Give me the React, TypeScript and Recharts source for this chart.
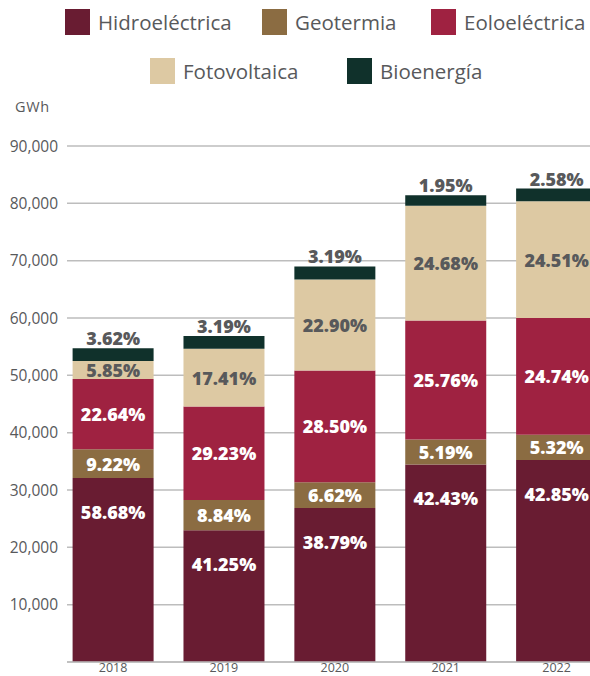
import { BarChart, Bar, XAxis, YAxis, CartesianGrid, LabelList } from 'recharts';

const years = ['2018', '2019', '2020', '2021', '2022'];

// GWh por fuente
const hidro = [32100, 23000, 26850, 34450, 35250];
const geo = [5000, 5250, 4500, 4350, 4380];
const eolo = [12250, 16300, 19500, 20750, 20350];
const foto = [3170, 10100, 15850, 20050, 20400];
const bio = [2200, 2200, 2300, 1800, 2200];

const hidroPct = ['58.68%', '41.25%', '38.79%', '42.43%', '42.85%'];
const geoPct = ['9.22%', '8.84%', '6.62%', '5.19%', '5.32%'];
const eoloPct = ['22.64%', '29.23%', '28.50%', '25.76%', '24.74%'];
const fotoPct = ['5.85%', '17.41%', '22.90%', '24.68%', '24.51%'];
const bioPct = ['3.62%', '3.19%', '3.19%', '1.95%', '2.58%'];

const yTicks = [10000, 20000, 30000, 40000, 50000, 60000, 70000, 80000, 90000];

const COLORS = {
  hidro: '#691C32',
  geo: '#8B6C42',
  eolo: '#9F2241',
  foto: '#DDC9A3',
  bio: '#10312B',
};

const FONT = '"Open Sans", sans-serif';
const GRAY = '#58595B';

const data = years.map((year, i) => ({
  year,
  hidro: hidro[i],
  geo: geo[i],
  eolo: eolo[i],
  foto: foto[i],
  bio: bio[i],
  hidroPct: hidroPct[i],
  geoPct: geoPct[i],
  eoloPct: eoloPct[i],
  fotoPct: fotoPct[i],
  bioPct: bioPct[i],
}));

const legendItems = [
  { name: 'Hidroeléctrica', color: COLORS.hidro, left: 65, top: 9 },
  { name: 'Geotermia', color: COLORS.geo, left: 262, top: 9 },
  { name: 'Eoloeléctrica', color: COLORS.eolo, left: 431, top: 9 },
  { name: 'Fotovoltaica', color: COLORS.foto, left: 150, top: 58 },
  { name: 'Bioenergía', color: COLORS.bio, left: 347, top: 58 },
];

const labelStyle = {
  fontFamily: FONT,
  fontWeight: 800,
  fontSize: 18,
};

function makeLabel(mode: 'top' | 'center' | 'above', color: string) {
  return (props: any) => {
    const { x, y, width, height, value } = props;
    const cx = Number(x) + Number(width) / 2;
    let cy = Number(y) + Number(height) / 2;
    if (mode === 'top') cy = Number(y) + 34;
    if (mode === 'above') cy = Number(y) - 10;
    return (
      <text x={cx} y={cy} textAnchor="middle" dominantBaseline="central" fill={color} style={labelStyle}>
        {value}
      </text>
    );
  };
}

export default function App() {
  return (
    <div
      style={{
        position: 'absolute',
        left: 0,
        top: 0,
        width: 590,
        height: 676,
        overflow: 'hidden',
        background: '#fff',
        fontFamily: FONT,
      }}
    >
      {legendItems.map((it) => (
        <div
          key={it.name}
          style={{ position: 'absolute', left: it.left, top: it.top, display: 'flex', alignItems: 'center' }}
        >
          <div style={{ width: 25, height: 26, background: it.color }} />
          <span style={{ marginLeft: 8, fontSize: 20.5, color: GRAY, lineHeight: '26px' }}>{it.name}</span>
        </div>
      ))}
      <div style={{ position: 'absolute', left: 15, top: 97, fontSize: 14.5, color: GRAY, letterSpacing: 0.6 }}>GWh</div>

      <BarChart
        width={612}
        height={676}
        data={data}
        margin={{ top: 146, right: 0, bottom: 0, left: 0 }}
        barSize={81}
      >
        <CartesianGrid vertical={false} stroke="#BDBDBD" strokeWidth={1.5} />
        <XAxis
          dataKey="year"
          height={14}
          padding={{ left: -9.4, right: 0 }}
          tickLine={false}
          tickSize={0}
          tickMargin={1}
          axisLine={{ stroke: '#BDBDBD', strokeWidth: 1.5 }}
          tick={{ fill: GRAY, fontSize: 12.5, fontFamily: FONT }}
        />
        <YAxis
          width={67}
          domain={[0, 90000]}
          ticks={yTicks}
          axisLine={false}
          tickLine={false}
          tickSize={0}
          tickMargin={9}
          tickFormatter={(v: number) => v.toLocaleString('en-US')}
          tick={{ fill: GRAY, fontSize: 15.5, fontFamily: FONT }}
        />
        <Bar dataKey="hidro" stackId="a" fill={COLORS.hidro} isAnimationActive={false}>
          <LabelList dataKey="hidroPct" content={makeLabel('top', '#fff')} />
        </Bar>
        <Bar dataKey="geo" stackId="a" fill={COLORS.geo} isAnimationActive={false}>
          <LabelList dataKey="geoPct" content={makeLabel('center', '#fff')} />
        </Bar>
        <Bar dataKey="eolo" stackId="a" fill={COLORS.eolo} isAnimationActive={false}>
          <LabelList dataKey="eoloPct" content={makeLabel('center', '#fff')} />
        </Bar>
        <Bar dataKey="foto" stackId="a" fill={COLORS.foto} isAnimationActive={false}>
          <LabelList dataKey="fotoPct" content={makeLabel('center', GRAY)} />
        </Bar>
        <Bar dataKey="bio" stackId="a" fill={COLORS.bio} isAnimationActive={false}>
          <LabelList dataKey="bioPct" content={makeLabel('above', GRAY)} />
        </Bar>
      </BarChart>
    </div>
  );
}
